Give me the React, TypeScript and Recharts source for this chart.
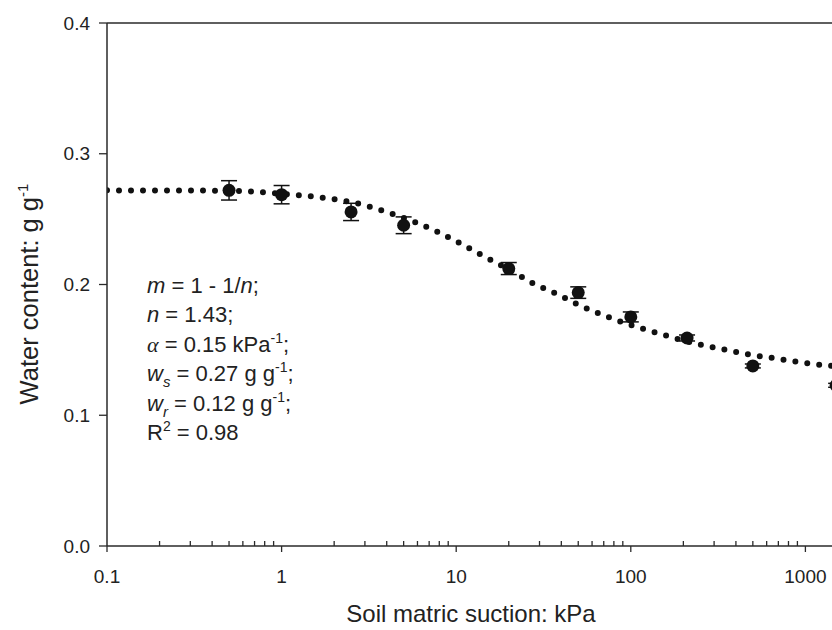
import React from 'react';
import {
  ComposedChart,
  Line,
  Scatter,
  ErrorBar,
  XAxis,
  YAxis,
  ReferenceLine,
} from 'recharts';

// measured points (suction kPa, water content g/g, std error)
const suction = [0.5, 1, 2.5, 5, 20, 50, 100, 210, 500, 1500];
const waterContent = [0.272, 0.2687, 0.2555, 0.2453, 0.2122, 0.1938, 0.1752, 0.1591, 0.1377, 0.1229];
const waterErr = [0.0074, 0.007, 0.0066, 0.0064, 0.0046, 0.0044, 0.0038, 0.0023, 0.0015, 0.0015];

// fitted curve
const fitSuction = [0.1, 0.5, 1, 1.6, 2.2, 3, 4, 5.6, 7.7, 10.6, 14.4, 20, 27, 38, 51, 70, 97, 133, 183, 250, 345, 470, 650, 890, 1350, 1500];
const fitWater = [0.272, 0.2717, 0.2694, 0.2669, 0.2644, 0.2606, 0.2554, 0.2486, 0.2407, 0.2313, 0.2216, 0.2116, 0.2015, 0.1925, 0.1841, 0.1764, 0.1695, 0.164, 0.1586, 0.154, 0.1502, 0.1466, 0.1438, 0.141, 0.138, 0.1375];

const xMajorTicks = [0.1, 1, 10, 100, 1000];
const xMinorSteps = [2, 3, 4, 5, 6, 7, 8, 9];
const yTicks = [0, 0.1, 0.2, 0.3, 0.4];

const points = suction.map((x, i) => ({ x, y: waterContent[i], err: waterErr[i] }));
const fit = fitSuction.map((x, i) => ({ x, y: fitWater[i] }));
const xAllTicks = [
  ...xMajorTicks,
  ...xMajorTicks.flatMap((d) => xMinorSteps.map((k) => k * d)),
].sort((a, b) => a - b);

const INK = '#111';
const AXIS = '#2a2a2a';
const FONT = '"Liberation Sans", Arial, sans-serif';

const LogTick = (props: any) => {
  const { x, y, payload } = props;
  const major = xMajorTicks.includes(payload.value);
  return (
    <g>
      <line x1={x} x2={x} y1={y} y2={major ? y + 6 : y - 5} stroke={AXIS} strokeWidth={1.3} />
      {major && (
        <text x={x} y={y + 37} textAnchor="middle" fontFamily={FONT} fontSize={19} fill="#222">
          {String(payload.value)}
        </text>
      )}
    </g>
  );
};

const Dot = (props: any) => <circle cx={props.cx} cy={props.cy} r={6.5} fill={INK} />;

// superscript followed by the rest of the line back on the baseline
const sup = (s: string, rest: string) => [
  <tspan key="s" dy={-9} fontSize={14}>{s}</tspan>,
  <tspan key="r" dy={9}>{rest}</tspan>,
];

const sub = (s: string, rest: string) => [
  <tspan key="b" dy={6} fontSize={15} fontStyle="italic">{s}</tspan>,
  <tspan key="r" dy={-6}>{rest}</tspan>,
];

const Annotation = () => {
  const x = 147;
  const y0 = 293;
  const dy = 29.4;
  const style = { fontFamily: FONT, fontSize: 22, fill: '#222' };
  return (
    <g>
      <text x={x} y={y0} {...style}>
        <tspan fontStyle="italic">m</tspan> = 1 - 1/<tspan fontStyle="italic">n</tspan>;
      </text>
      <text x={x} y={y0 + dy} {...style}>
        <tspan fontStyle="italic">n</tspan> = 1.43;
      </text>
      <text x={x} y={y0 + dy * 2} {...style}>
        <tspan fontStyle="italic" fontFamily='"Liberation Serif", serif'>α</tspan> = 0.15 kPa{sup('-1', ';')}
      </text>
      <text x={x} y={y0 + dy * 3} {...style}>
        <tspan fontStyle="italic">w</tspan>{sub('s', ' = 0.27 g g')}{sup('-1', ';')}
      </text>
      <text x={x} y={y0 + dy * 4} {...style}>
        <tspan fontStyle="italic">w</tspan>{sub('r', ' = 0.12 g g')}{sup('-1', ';')}
      </text>
      <text x={x} y={y0 + dy * 5} {...style}>
        R{sup('2', ' = 0.98')}
      </text>
    </g>
  );
};

const Titles = () => (
  <g fontFamily={FONT} fill="#222">
    <text x={471} y={622} textAnchor="middle" fontSize={24}>Soil matric suction: kPa</text>
    <text transform="translate(38,294) rotate(-90)" textAnchor="middle" fontSize={25.5}>
      Water content: g g<tspan dy={-10} fontSize={15}>-1</tspan>
    </text>
  </g>
);

export default function App() {
  return (
    <div style={{ position: 'absolute', left: 0, top: 0, width: 832, height: 630, overflow: 'hidden', background: '#fff' }}>
      <ComposedChart width={990} height={630} margin={{ top: 23, right: 10, bottom: 44, left: 47 }}>
        <XAxis
          dataKey="x"
          type="number"
          scale="log"
          domain={[0.1, 10000]}
          allowDataOverflow
          ticks={xAllTicks}
          interval={0}
          tickLine={false}
          tickSize={0}
          tickMargin={0}
          tick={<LogTick />}
          axisLine={{ stroke: AXIS, strokeWidth: 1.5 }}
          height={40}
        />
        <YAxis
          type="number"
          domain={[0, 0.4]}
          ticks={yTicks}
          tickFormatter={(v: number) => v.toFixed(1)}
          tickSize={8}
          tickMargin={9}
          tickLine={{ stroke: AXIS, strokeWidth: 1.3 }}
          axisLine={{ stroke: AXIS, strokeWidth: 1.5 }}
          tick={{ fontFamily: FONT, fontSize: 19, fill: '#222' }}
          width={60}
        />
        <ReferenceLine y={0.4} stroke={AXIS} strokeWidth={1.5} />
        <Line
          data={fit}
          dataKey="y"
          type="monotone"
          stroke={INK}
          strokeWidth={6}
          strokeDasharray="0 12"
          strokeLinecap="round"
          dot={false}
          activeDot={false}
          isAnimationActive={false}
        />
        <Scatter data={points} dataKey="y" shape={Dot} isAnimationActive={false}>
          <ErrorBar dataKey="err" direction="y" width={8} stroke={INK} strokeWidth={1.5} />
        </Scatter>
        <Annotation />
        <Titles />
      </ComposedChart>
    </div>
  );
}
